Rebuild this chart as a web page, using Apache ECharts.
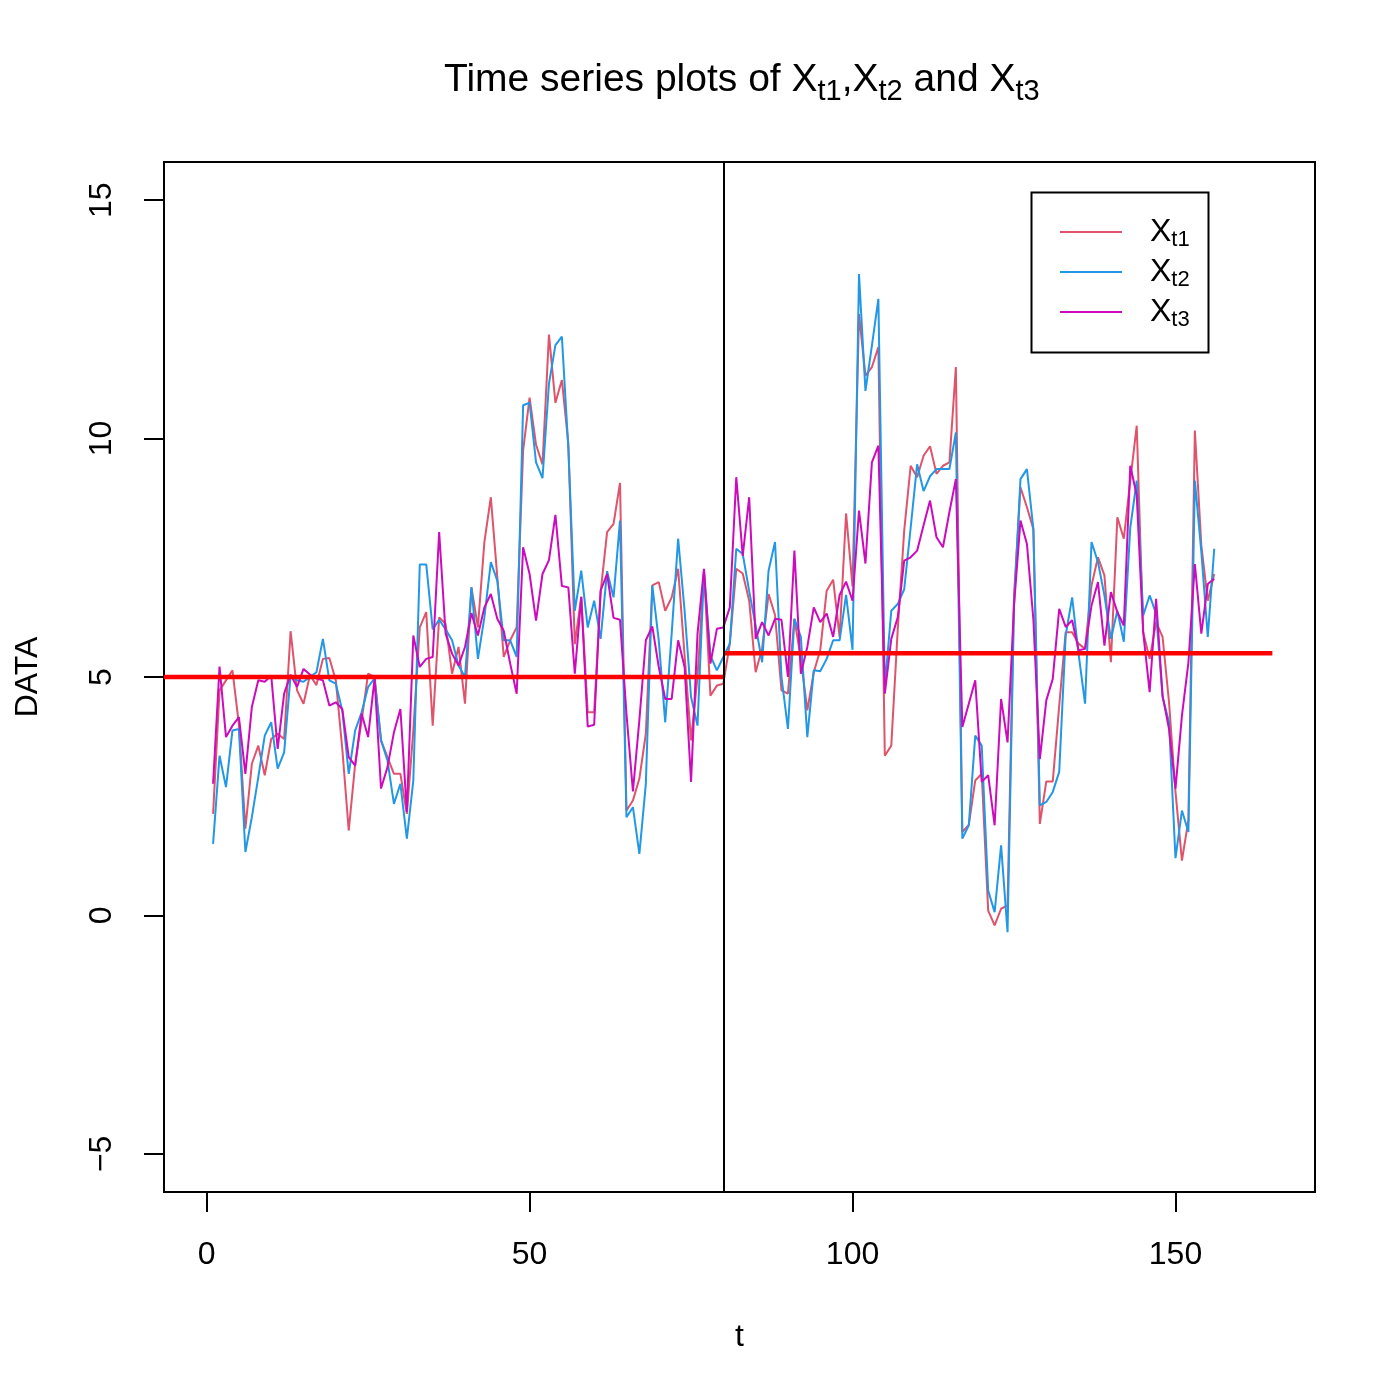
<!DOCTYPE html>
<html>
<head>
<meta charset="utf-8">
<script src="https://cdn.jsdelivr.net/npm/echarts@6/dist/echarts.min.js"></script>
<style>
html,body{margin:0;padding:0;background:#fff;}
#chart{width:1400px;height:1397px;}
</style>
</head>
<body>
<div id="chart"></div>
<script>
// ---- data ----
const Xt1 = [2.13,4.72,4.93,5.14,4.0,1.82,3.18,3.56,2.94,3.70,3.81,3.70,5.96,4.72,4.44,5.04,4.83,5.38,5.40,4.93,
3.5,1.78,3.18,4.09,5.07,5.0,3.67,3.32,2.97,2.97,2.13,3.88,6.04,6.36,3.98,6.25,6.11,5.07,5.63,4.44,
6.88,6.04,7.83,8.77,7.1,5.42,5.77,6.04,9.75,10.86,9.87,9.46,12.18,10.75,11.23,9.9,5.69,6.68,4.26,4.26,
6.78,8.04,8.21,9.07,2.2,2.41,2.87,3.81,6.92,6.99,6.39,6.67,7.27,5.45,3.67,5.0,7.23,4.61,4.82,4.86,
5.7,7.27,7.17,6.6,5.10,5.6,6.74,6.3,4.72,4.65,6.22,5.38,4.3,5.1,5.56,6.81,7.04,5.84,8.43,6.9,
12.61,11.32,11.50,11.92,3.35,3.56,6.0,8.07,9.43,9.19,9.64,9.84,9.26,9.43,9.50,11.50,1.75,1.9,2.83,2.97,
0.10,-0.21,0.14,0.21,6.7,8.98,8.56,8.10,1.92,2.81,2.81,4.40,5.94,5.94,5.7,5.59,6.92,7.51,7.13,5.31,
8.35,7.90,9.12,10.27,5.94,5.38,6.15,5.84,4.47,2.59,1.15,2.0,10.17,7.76,6.6,7.16];
const Xt2 = [1.50,3.35,2.69,3.88,3.91,1.33,2.06,2.90,3.77,4.05,3.08,3.42,5.03,4.93,4.90,5.0,5.1,5.80,4.93,4.86,
4.3,2.97,3.88,4.26,4.79,4.97,3.67,3.25,2.34,2.76,1.61,2.83,7.36,7.36,6.0,6.2,6.0,5.77,5.24,5.0,
6.88,5.38,6.25,7.41,7.02,5.77,5.77,5.42,10.7,10.75,9.50,9.17,11.15,11.96,12.14,9.8,6.39,7.23,6.04,6.60,
5.80,7.22,6.67,8.28,2.06,2.27,1.29,2.76,6.92,5.77,4.05,5.91,7.90,6.39,4.58,3.98,7.20,5.45,5.14,5.42,
5.70,7.69,7.58,6.8,6.08,5.31,7.23,7.83,5.0,3.91,6.22,5.84,3.74,5.14,5.12,5.38,5.77,5.77,6.72,5.57,
13.45,11.0,11.95,12.93,4.8,6.39,6.53,6.84,8.13,9.46,8.90,9.21,9.36,9.36,9.36,10.13,1.61,1.89,3.77,3.56,
0.52,0.07,1.47,-0.35,6.5,9.15,9.36,8.10,2.31,2.38,2.59,3.01,5.87,6.67,5.48,4.44,7.83,7.41,6.71,5.80,
6.39,5.74,8.13,9.12,6.29,6.71,6.33,4.58,4.05,1.2,2.20,1.75,9.12,7.63,5.84,7.69];
const Xt3 = [2.76,5.22,3.74,3.98,4.16,2.97,4.37,4.93,4.90,5.03,3.49,4.65,5.05,4.79,5.17,5.05,4.97,4.93,4.40,4.47,
4.33,3.32,3.14,4.23,3.74,4.97,2.66,3.11,3.84,4.33,2.17,5.87,5.21,5.38,5.42,8.04,5.91,5.49,5.24,5.63,
6.34,5.87,6.46,6.74,6.22,5.97,5.28,4.65,7.72,7.16,6.18,7.16,7.45,8.40,6.91,6.88,5.07,6.68,3.96,4.0,
6.81,7.16,6.24,6.20,4.23,2.6,4.1,5.77,6.06,5.21,4.54,4.54,5.77,5.21,2.80,5.91,7.27,5.28,6.01,6.04,
6.46,9.19,7.54,8.77,5.80,6.15,5.87,6.22,6.2,5.0,7.65,5.07,5.63,6.46,6.15,6.33,5.84,6.72,7.0,6.6,
8.49,7.38,9.50,9.85,4.65,5.80,6.25,7.44,7.51,7.65,8.18,8.70,7.93,7.72,8.46,9.15,3.95,4.44,4.93,2.80,
2.94,1.89,4.54,3.63,6.5,8.28,7.79,6.2,3.28,4.51,4.96,6.43,6.05,6.19,5.56,5.59,6.50,6.99,5.66,6.78,
6.36,6.08,9.43,8.81,5.94,4.68,6.64,4.61,3.91,2.66,4.19,5.3,7.37,5.91,6.95,7.06];
const seriesNames = ['Xt1','Xt2','Xt3'];
const xTicks = [0, 50, 100, 150];
const yTicks = [-5, 0, 5, 10, 15];
const xMin = -6.6, xMax = 171.6;
const yMin = -5.8, yMax = 15.8;
const breakT = 80;        // change point (vertical line)
const endT = 165;         // end of second mean segment
const meanBefore = 5;     // mean level before change point
const meanAfter = 5.5;    // mean level after change point

// ---- build chart ----
const tIndex = Xt1.map((_, i) => i + 1);
const toPairs = arr => arr.map((v, i) => [tIndex[i], v]);
const colors = ['#DF536B', '#2297E6', '#CD0BBC'];
const FONT = 'Liberation Sans';

const chart = echarts.init(document.getElementById('chart'), null, {renderer: 'canvas'});

const lineSeries = [Xt1, Xt2, Xt3].map((arr, k) => ({
  name: seriesNames[k],
  type: 'line',
  data: toPairs(arr),
  symbol: 'none',
  showSymbol: false,
  color: colors[k],
  lineStyle: {color: colors[k], width: 2},
  itemStyle: {color: colors[k]},
  z: 2,
  silent: true,
  animation: false
}));

const fmtNum = v => (v < 0 ? '\u2212' + Math.abs(v) : String(v));

const option = {
  animation: false,
  backgroundColor: '#ffffff',
  title: {
    text: '{m|Time series plots of X}{s|t1}{m|,X}{s|t2}{m| and X}{s|t3}',
    left: 444,
    top: 61,
    padding: 0,
    textStyle: {
      fontWeight: 'normal',
      rich: {
        m: {fontFamily: FONT, fontSize: 39, lineHeight: 39, fontWeight: 'normal', color: '#000'},
        s: {fontFamily: FONT, fontSize: 29, lineHeight: 29, fontWeight: 'normal', color: '#000', padding: [22, 0, 0, 0]}
      }
    }
  },
  legend: {
    data: seriesNames,
    orient: 'vertical',
    left: 1060,
    top: 213,
    padding: 0,
    itemGap: 2,
    itemWidth: 62,
    itemHeight: 2,
    icon: 'rect',
    selectedMode: false,
    formatter: name => '{x|X}{s|' + name.slice(1) + '}',
    textStyle: {
      rich: {
        x: {fontFamily: FONT, fontSize: 32, lineHeight: 32, color: '#000', padding: [0, 0, 0, 23]},
        s: {fontFamily: FONT, fontSize: 22, lineHeight: 22, color: '#000', padding: [16, 0, 0, 0]}
      }
    }
  },
  graphic: [{
    type: 'rect',
    left: 1029, top: 190,
    shape: {width: 177, height: 160},
    style: {fill: null, stroke: '#000', lineWidth: 2},
    silent: true,
    z: 10
  }],
  grid: {
    left: 164, top: 162, width: 1151, height: 1030,
    show: true, borderColor: '#000', borderWidth: 2, backgroundColor: 'transparent'
  },
  xAxis: {
    type: 'value',
    min: xMin, max: xMax,
    name: 't',
    nameLocation: 'middle',
    nameGap: 129,
    nameTextStyle: {fontFamily: FONT, fontSize: 32, color: '#000'},
    axisLine: {show: false, onZero: false},
    splitLine: {show: false},
    axisTick: {show: true, inside: false, length: 20, customValues: xTicks, lineStyle: {color: '#000', width: 2}},
    axisLabel: {show: true, customValues: xTicks, margin: 47, fontFamily: FONT, fontSize: 32, color: '#000', formatter: fmtNum}
  },
  yAxis: {
    type: 'value',
    min: yMin, max: yMax,
    name: 'DATA',
    nameLocation: 'middle',
    nameRotate: 90,
    nameGap: 120,
    nameTextStyle: {fontFamily: FONT, fontSize: 32, color: '#000'},
    axisLine: {show: false, onZero: false},
    splitLine: {show: false},
    axisTick: {show: true, inside: false, length: 20, customValues: yTicks, lineStyle: {color: '#000', width: 2}},
    axisLabel: {show: true, customValues: yTicks, rotate: 90, margin: 46, fontFamily: FONT, fontSize: 32, color: '#000', formatter: fmtNum}
  },
  series: lineSeries.concat([
    {
      name: 'mean1', type: 'line', symbol: 'none', silent: true, z: 3,
      data: [[xMin, meanBefore], [breakT, meanBefore]],
      lineStyle: {color: '#FF0000', width: 4.5}
    },
    {
      name: 'mean2', type: 'line', symbol: 'none', silent: true, z: 3,
      data: [[breakT, meanAfter], [endT, meanAfter]],
      lineStyle: {color: '#FF0000', width: 4.5},
      markLine: {
        silent: true, symbol: 'none', animation: false,
        label: {show: false},
        lineStyle: {color: '#000', width: 2, type: 'solid'},
        data: [{xAxis: breakT}]
      }
    }
  ])
};
chart.setOption(option);
</script>
</body>
</html>
